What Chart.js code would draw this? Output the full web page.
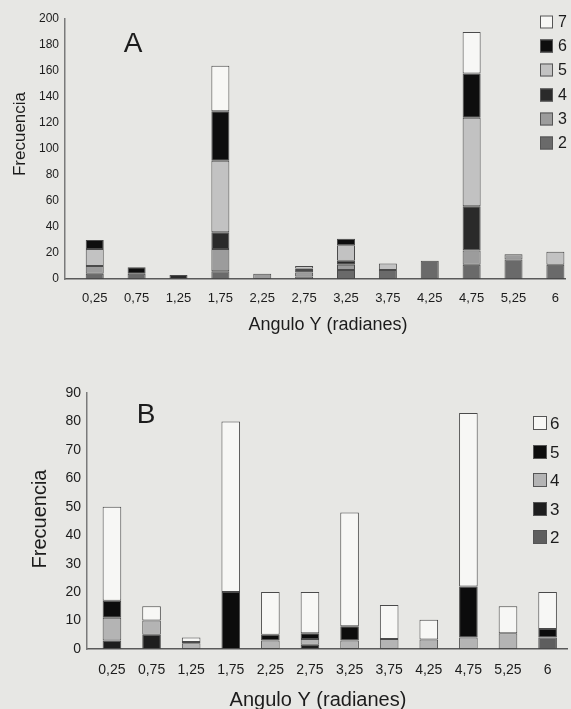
<!DOCTYPE html>
<html>
<head>
<meta charset="utf-8">
<script src="https://cdn.jsdelivr.net/npm/chart.js@4"></script>
<style>
  html, body { margin: 0; padding: 0; background: #e7e7e4; overflow: hidden; }
  .box { position: relative; width: 571px; }
  #boxA { height: 340px; }
  #boxB { height: 369px; }
</style>
</head>
<body>
<div class="box" id="boxA"><canvas id="chartA"></canvas></div>
<div class="box" id="boxB"><canvas id="chartB"></canvas></div>
<script>
// categorias del eje X (angulo Y en radianes)
const angleLabels = ['0,25', '0,75', '1,25', '1,75', '2,25', '2,75', '3,25', '3,75', '4,25', '4,75', '5,25', '6'];

// grafico A: frecuencias por clase 2..7
const freqA2 = [4, 4, 0, 6, 0, 2, 7, 7, 14, 11, 15, 11];
const freqA3 = [6, 0, 0, 17, 4, 3, 4, 0, 0, 11, 4, 0];
const freqA4 = [0, 0, 3, 13, 0, 2, 3, 0, 0, 34, 0, 0];
const freqA5 = [13, 0, 0, 55, 0, 1, 12, 5, 0, 68, 0, 10];
const freqA6 = [7, 5, 0, 38, 0, 0, 5, 0, 0, 34, 0, 0];
const freqA7 = [0, 0, 0, 35, 0, 2, 0, 0, 0, 32, 0, 0];

// grafico B: frecuencias por clase 2..6
const freqB2 = [0, 0, 0, 0, 0, 0, 0, 0, 0, 0, 0, 4];
const freqB3 = [3, 5, 0, 0, 0, 1.5, 0, 0, 0, 0, 0, 0];
const freqB4 = [8, 5, 2, 0, 3, 2, 3, 3.5, 3.3, 4, 5.5, 0];
const freqB5 = [6, 0, 0.5, 20, 2, 2, 5, 0, 0, 18, 0, 3];
const freqB6 = [33, 5, 1.5, 60, 15, 14.5, 40, 12, 7, 61, 9.5, 13];

const yTicksA = { max: 200, step: 20 };
const yTicksB = { max: 90, step: 10 };

const FONT = '"Liberation Sans", Arial, sans-serif';
const INK = '#1c1c1c';

// textos, letras A/B y leyenda dibujados encima
const overlay = {
    id: 'overlay',
    afterDraw(chart, args, opts) {
        const ctx = chart.ctx;
        ctx.save();
        ctx.fillStyle = INK;
        ctx.textBaseline = 'middle';
        (opts.texts || []).forEach(t => {
            ctx.save();
            ctx.font = t.font;
            ctx.textAlign = 'center';
            ctx.translate(t.x, t.y);
            if (t.rotate) ctx.rotate(t.rotate);
            ctx.fillText(t.text, 0, 0);
            ctx.restore();
        });
        const lg = opts.legend;
        if (lg) {
            const items = chart.data.datasets.slice().reverse();
            items.forEach((ds, i) => {
                const y = Math.round(lg.y + i * lg.step);
                ctx.fillStyle = ds.backgroundColor;
                ctx.fillRect(lg.x, y - lg.box / 2, lg.box, lg.box);
                ctx.strokeStyle = '#555';
                ctx.lineWidth = 1;
                ctx.strokeRect(lg.x + 0.5, y - lg.box / 2 + 0.5, lg.box - 1, lg.box - 1);
                ctx.fillStyle = INK;
                ctx.font = lg.font;
                ctx.textAlign = 'left';
                ctx.fillText(ds.label, lg.x + lg.box + lg.gap, y + 1);
            });
        }
        ctx.restore();
    }
};

function toPoints(arr) {
    return arr.map((v, i) => ({ x: i, y: v }));
}

function makeChart(id, series, cfg) {
    const datasets = series.map(s => ({
        label: s.label,
        data: toPoints(s.data),
        backgroundColor: s.color,
        borderColor: '#4a4a4a',
        borderWidth: 1,
        borderSkipped: false,
        barPercentage: cfg.barPct,
        categoryPercentage: 1
    }));

    return new Chart(document.getElementById(id), {
        type: 'bar',
        data: { datasets: datasets },
        plugins: [overlay],
        options: {
            responsive: true,
            maintainAspectRatio: false,
            animation: false,
            layout: { padding: { top: cfg.top, right: cfg.right, left: 0, bottom: 0 } },
            plugins: {
                legend: { display: false },
                tooltip: { enabled: false },
                overlay: { texts: cfg.texts, legend: cfg.legend }
            },
            scales: {
                x: {
                    type: 'linear',
                    stacked: true,
                    min: cfg.xMin,
                    max: cfg.xMax,
                    offset: false,
                    grid: { display: false, drawTicks: false },
                    border: { color: '#5a5a5a', width: 1.5 },
                    afterBuildTicks: scale => {
                        scale.ticks = angleLabels.map((_, i) => ({ value: i }));
                    },
                    afterFit: scale => { scale.height = cfg.xHeight; },
                    ticks: {
                        autoSkip: false,
                        maxRotation: 0,
                        padding: cfg.xPad,
                        color: INK,
                        font: { family: FONT, size: cfg.xFont },
                        callback: v => angleLabels[v]
                    }
                },
                y: {
                    stacked: true,
                    min: 0,
                    max: cfg.yMax,
                    grid: { display: false, drawTicks: false },
                    border: { color: '#7a7a7a', width: 1.5 },
                    afterFit: scale => { scale.width = cfg.yWidth; },
                    ticks: {
                        stepSize: cfg.yStep,
                        padding: 6,
                        color: INK,
                        font: { family: FONT, size: cfg.yFont }
                    }
                }
            }
        }
    });
}

makeChart('chartA', [
    { label: '2', data: freqA2, color: '#6a6a6a' },
    { label: '3', data: freqA3, color: '#9c9c9c' },
    { label: '4', data: freqA4, color: '#2a2a2a' },
    { label: '5', data: freqA5, color: '#c2c2c2' },
    { label: '6', data: freqA6, color: '#0e0e0e' },
    { label: '7', data: freqA7, color: '#f7f7f5' }
], {
    top: 19, right: 0, xMin: -0.71, xMax: 11.25, xHeight: 61, yWidth: 65,
    xPad: 12, xFont: 13, yFont: 12, yMax: yTicksA.max, yStep: yTicksA.step, barPct: 0.43,
    texts: [
        { text: 'A', x: 133, y: 44, font: '28px ' + FONT },
        { text: 'Frecuencia', x: 20, y: 134, font: '17px ' + FONT, rotate: -Math.PI / 2 },
        { text: 'Angulo Y (radianes)', x: 328, y: 325, font: '18px ' + FONT }
    ],
    legend: { x: 540, y: 22, step: 24.2, box: 13, gap: 5, font: '16px ' + FONT }
});

makeChart('chartB', [
    { label: '2', data: freqB2, color: '#5e5e5e' },
    { label: '3', data: freqB3, color: '#1e1e1e' },
    { label: '4', data: freqB4, color: '#b4b4b4' },
    { label: '5', data: freqB5, color: '#0c0c0c' },
    { label: '6', data: freqB6, color: '#f7f7f5' }
], {
    top: 53, right: 4, xMin: -0.63, xMax: 11.49, xHeight: 60, yWidth: 87,
    xPad: 13, xFont: 14, yFont: 14, yMax: yTicksB.max, yStep: yTicksB.step, barPct: 0.47,
    texts: [
        { text: 'B', x: 146, y: 75, font: '28px ' + FONT },
        { text: 'Frecuencia', x: 40, y: 179, font: '20px ' + FONT, rotate: -Math.PI / 2 },
        { text: 'Angulo Y (radianes)', x: 318, y: 360, font: '20px ' + FONT }
    ],
    legend: { x: 533, y: 83, step: 28.5, box: 14, gap: 3, font: '17px ' + FONT }
});
</script>
</body>
</html>
